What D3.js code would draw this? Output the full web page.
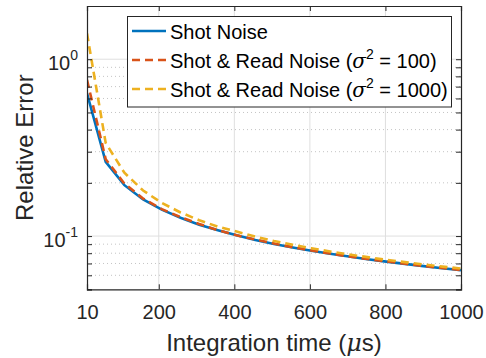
<!DOCTYPE html>
<html>
<head>
    <script src="https://d3js.org/d3.v7.min.js"></script>
    <style>
        body { margin: 0; background: #fff; }
        svg { display: block; font-family: "Liberation Sans", Arial, sans-serif; }
        .axis path, .axis line { stroke: #262626; }
        .axis text { fill: #262626; }
    </style>
</head>
<body>
    <svg id="chart" width="486" height="358"></svg>
    <script>
        // integration times (us) and relative error
        const tValues = [10, 59.5, 109, 158.5, 208, 257.5, 307, 356.5, 406, 455.5, 505, 554.5, 604, 653.5, 703, 752.5, 802, 851.5, 901, 950.5, 1000];
        const shotNoise = [0.642, 0.263, 0.194, 0.161, 0.141, 0.127, 0.116, 0.108, 0.101, 0.0951, 0.0903, 0.0862, 0.0826, 0.0794, 0.0766, 0.0740, 0.0717, 0.0696, 0.0676, 0.0658, 0.0642];
        const read100 = [0.764, 0.272, 0.198, 0.163, 0.142, 0.128, 0.117, 0.108, 0.101, 0.0956, 0.0907, 0.0865, 0.0829, 0.0796, 0.0767, 0.0742, 0.0719, 0.0697, 0.0677, 0.0660, 0.0643];
        const read1000 = [1.40, 0.336, 0.228, 0.181, 0.154, 0.136, 0.123, 0.113, 0.106, 0.0993, 0.0938, 0.0893, 0.0853, 0.0818, 0.0787, 0.0760, 0.0734, 0.0712, 0.0691, 0.0672, 0.0655];

        const xTicks = [10, 200, 400, 600, 800, 1000];
        const yMajor = [0.1, 1];
        const yMajorExp = ["-1", "0"];
        const yMinor = [0.05, 0.06, 0.07, 0.08, 0.09, 0.2, 0.3, 0.4, 0.5, 0.6, 0.7, 0.8, 0.9];

        const seriesNames = ["Shot Noise", "Shot & Read Noise (", "Shot & Read Noise ("];
        const seriesSigma = [null, "100", "1000"];
        const seriesColors = ["#0072BD", "#D95319", "#EDB120"];
        const seriesDash = [null, "8,5", "8,5"];
        const series = [shotNoise, read100, read1000];

        const svg = d3.select("#chart");
        const margin = { top: 6, right: 25, bottom: 69, left: 87 };
        const W = +svg.attr("width"), H = +svg.attr("height");
        const pLeft = margin.left, pRight = W - margin.right;
        const pTop = margin.top, pBottom = H - margin.bottom + 0.3;

        const x = d3.scaleLinear().domain([10, 1000]).range([pLeft, pRight]);
        const y = d3.scaleLog().domain([0.05, 2]).range([pBottom, pTop]);

        // grid
        const grid = svg.append("g");
        grid.selectAll(".gx").data(xTicks.slice(1, -1)).join("line")
            .attr("x1", d => x(d)).attr("x2", d => x(d))
            .attr("y1", pTop).attr("y2", pBottom)
            .attr("stroke", "#dfdfdf").attr("stroke-width", 1);
        grid.selectAll(".gy").data(yMajor).join("line")
            .attr("x1", pLeft).attr("x2", pRight)
            .attr("y1", d => y(d)).attr("y2", d => y(d))
            .attr("stroke", "#dfdfdf").attr("stroke-width", 1);
        grid.selectAll(".gm").data(yMinor.filter(d => d > 0.05)).join("line")
            .attr("x1", pLeft).attr("x2", pRight)
            .attr("y1", d => y(d)).attr("y2", d => y(d))
            .attr("stroke", "#c4c4c4").attr("stroke-width", 1)
            .attr("stroke-dasharray", "1,3");

        // lines
        svg.append("clipPath").attr("id", "clip").append("rect")
            .attr("x", pLeft).attr("y", pTop).attr("width", pRight - pLeft).attr("height", pBottom - pTop);
        const line = d3.line().x((d, i) => x(tValues[i])).y(d => y(d));
        series.forEach((s, i) => {
            svg.append("path")
                .datum(s)
                .attr("clip-path", "url(#clip)")
                .attr("fill", "none")
                .attr("stroke", seriesColors[i])
                .attr("stroke-width", 2.6)
                .attr("stroke-dasharray", seriesDash[i])
                .attr("d", line);
        });

        // axes (inward ticks, box on)
        const tick = 5;
        svg.append("g").attr("class", "axis")
            .attr("transform", `translate(0,${pBottom})`)
            .call(d3.axisBottom(x).tickValues(xTicks).tickSize(-tick).tickFormat(d3.format("d")))
            .call(g => g.selectAll("text").attr("font-size", 20).attr("dy", "0.71em").attr("y", 16));
        svg.append("g").attr("class", "axis")
            .attr("transform", `translate(0,${pTop})`)
            .call(d3.axisTop(x).tickValues(xTicks).tickSize(-tick).tickFormat(""));

        svg.append("g").attr("class", "axis")
            .attr("transform", `translate(${pLeft},0)`)
            .call(d3.axisLeft(y).tickValues(yMajor.concat(yMinor)).tickSize(-tick).tickFormat(""));
        svg.append("g").attr("class", "axis")
            .attr("transform", `translate(${pRight},0)`)
            .call(d3.axisRight(y).tickValues(yMajor.concat(yMinor)).tickSize(-tick).tickFormat(""));
        svg.selectAll(".axis .domain").attr("stroke-width", 1.2);

        // y labels 10^n
        yMajor.forEach((v, i) => {
            const t = svg.append("text")
                .attr("x", pLeft - 9).attr("y", y(v) + 11)
                .attr("text-anchor", "end").attr("fill", "#262626").attr("font-size", 20);
            t.append("tspan").text("10");
            t.append("tspan").attr("font-size", 14).attr("dy", -10).text(yMajorExp[i]);
        });

        // axis titles
        svg.append("text")
            .attr("x", (pLeft + pRight) / 2).attr("y", 351)
            .attr("text-anchor", "middle").attr("fill", "#262626").attr("font-size", 24)
            .call(t => {
                t.append("tspan").text("Integration time (");
                t.append("tspan").attr("font-family", "DejaVu Serif").attr("font-style", "italic").text("μ");
                t.append("tspan").text("s)");
            });
        svg.append("text")
            .attr("transform", `translate(32.5,${(pTop + pBottom) / 2}) rotate(-90)`)
            .attr("text-anchor", "middle").attr("fill", "#262626").attr("font-size", 24)
            .text("Relative Error");

        // legend
        const lg = svg.append("g");
        lg.append("rect")
            .attr("x", 127.5).attr("y", 16.5).attr("width", 324).attr("height", 90.5)
            .attr("fill", "#fff").attr("stroke", "#262626").attr("stroke-width", 1);
        const rowY = [31, 60, 89];
        seriesNames.forEach((name, i) => {
            lg.append("line")
                .attr("x1", 132).attr("x2", 166)
                .attr("y1", rowY[i]).attr("y2", rowY[i])
                .attr("stroke", seriesColors[i]).attr("stroke-width", 2.6)
                .attr("stroke-dasharray", seriesDash[i]);
            const t = lg.append("text")
                .attr("x", 170).attr("y", rowY[i] + 8)
                .attr("fill", "#000").attr("font-size", 20);
            t.append("tspan").text(name);
            if (seriesSigma[i]) {
                t.append("tspan").attr("font-family", "DejaVu Serif").attr("font-style", "italic").text("σ");
                t.append("tspan").attr("font-size", 14).attr("dy", -9).text("2");
                t.append("tspan").attr("dy", 9).text(" = " + seriesSigma[i] + ")");
            }
        });
    </script>
</body>
</html>
